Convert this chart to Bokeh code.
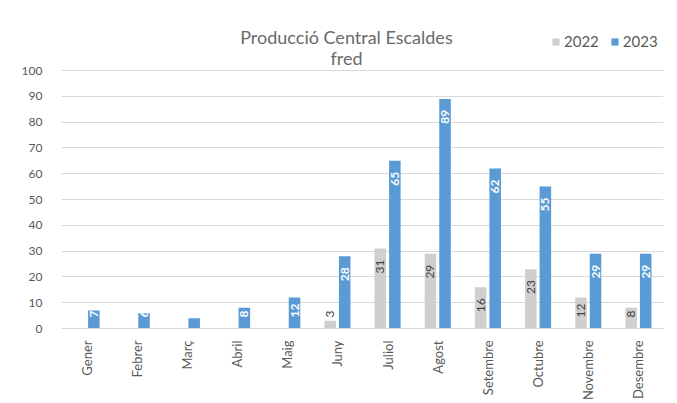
import math
from bokeh.plotting import figure
from bokeh.models import ColumnDataSource, FactorRange, Range1d, Label, Legend, LegendItem, FixedTicker
from bokeh.transform import dodge
from bokeh.core.properties import value
from bokeh.embed import file_html
from bokeh.resources import INLINE

months = ["Gener", "Febrer", "Març", "Abril", "Maig", "Juny", "Juliol",
          "Agost", "Setembre", "Octubre", "Novembre", "Desembre"]
v2022 = [0, 0, 0, 0, 0, 3, 31, 29, 16, 23, 12, 8]
v2023 = [7, 6, 4, 8, 12, 28, 65, 89, 62, 55, 29, 29]
title_lines = ["Producció Central Escaldes", "fred"]
series_names = ["2022", "2023"]
y_ticks = [0, 10, 20, 30, 40, 50, 60, 70, 80, 90, 100]

FONT = "Lato"
GRAY = "#d0cece"
BLUE = "#5b9bd5"
TXT = "#595959"

# layout constants (pixels)
FRAME_W, FRAME_H = 602, 328
PX_PER_UNIT = 2.58          # 100 units -> 258 px
Y_TOP = FRAME_H / PX_PER_UNIT
MARGIN = 11                 # label inset from bar end / from axis
CHAR_W = 7


def label_layout(vals, labels):
    """Excel-like 'inside end' labels, pushed up from the axis when the bar is short."""
    ys, aligns, offs = [], [], []
    for v, t in zip(vals, labels):
        need = MARGIN + CHAR_W * len(t)
        if v * PX_PER_UNIT - MARGIN < need:
            ys.append(0); aligns.append("left"); offs.append(-MARGIN)
        else:
            ys.append(v); aligns.append("right"); offs.append(MARGIN)
    return ys, aligns, offs


lab22 = [str(v) if v > 0 else "" for v in v2022]
lab23 = [str(v) for v in v2023]
ya, ala, oa = label_layout(v2022, lab22)
yb, alb, ob = label_layout(v2023, lab23)

src = ColumnDataSource(dict(m=months, a=v2022, b=v2023, la=lab22, lb=lab23,
                            ya=ya, ala=ala, oa=oa, yb=yb, alb=alb, ob=ob))

p = figure(x_range=FactorRange(*months, range_padding=0), y_range=Range1d(0, Y_TOP),
           frame_width=FRAME_W, frame_height=FRAME_H, width=669, height=395,
           min_border_left=61, min_border_right=6, min_border_top=0, min_border_bottom=67,
           output_backend="svg", toolbar_location=None)
p.outline_line_color = None
p.background_fill_color = "white"
p.border_fill_color = "white"

r1 = p.vbar(x=dodge("m", -0.145, range=p.x_range), top="a", width=0.23, source=src,
            fill_color=GRAY, line_color=None)
r2 = p.vbar(x=dodge("m", 0.145, range=p.x_range), top="b", width=0.23, source=src,
            fill_color=BLUE, line_color=None)

p.text(x=dodge("m", -0.145, range=p.x_range), y="ya", text="la", angle=math.pi / 2,
       text_align="ala", text_baseline="middle", y_offset="oa", source=src,
       text_font=value(FONT), text_font_size="12px", text_color="#404040")
p.text(x=dodge("m", 0.145, range=p.x_range), y="yb", text="lb", angle=math.pi / 2,
       text_align="alb", text_baseline="middle", y_offset="ob", source=src,
       text_font=value(FONT), text_font_size="12px", text_color="white",
       text_font_style="bold")

# axes
p.yaxis.ticker = FixedTicker(ticks=y_ticks)
p.yaxis.axis_line_color = None
p.yaxis.major_tick_line_color = None
p.yaxis.minor_tick_line_color = None
p.yaxis.major_label_text_font = FONT
p.yaxis.major_label_text_font_size = "12px"
p.yaxis.major_label_text_color = TXT
p.yaxis.major_label_standoff = 13

p.xaxis.axis_line_color = "#d9d9d9"
p.xaxis.major_tick_line_color = None
p.xaxis.minor_tick_line_color = None
p.xaxis.major_label_orientation = math.pi / 2
p.xaxis.major_label_text_font = FONT
p.xaxis.major_label_text_font_size = "13px"
p.xaxis.major_label_text_color = TXT
p.xaxis.major_label_standoff = 6

p.xgrid.grid_line_color = None
p.ygrid.grid_line_color = "#d9d9d9"
p.ygrid.ticker = FixedTicker(ticks=y_ticks)

# title (two lines, inside the tall frame above the 100 gridline)
p.add_layout(Label(x=5.68, y=112.9, text=title_lines[0], text_align="center",
                   text_baseline="alphabetic", text_font=FONT, text_font_size="18px",
                   text_color="#6a6a6a"))
p.add_layout(Label(x=5.68, y=105.0, text=title_lines[1], text_align="center",
                   text_baseline="alphabetic", text_font=FONT, text_font_size="18px",
                   text_color="#6a6a6a"))

legend = Legend(items=[LegendItem(label=series_names[0], renderers=[r1]),
                       LegendItem(label=series_names[1], renderers=[r2])],
                orientation="horizontal", location=(490, 278),
                glyph_width=9, glyph_height=9, label_text_font=FONT,
                label_text_font_size="15px", label_text_color=TXT,
                padding=0, spacing=11, label_standoff=4, margin=0,
                border_line_color=None, background_fill_alpha=0)
p.add_layout(legend, "center")

open("out.html", "w").write(file_html(p, INLINE))
